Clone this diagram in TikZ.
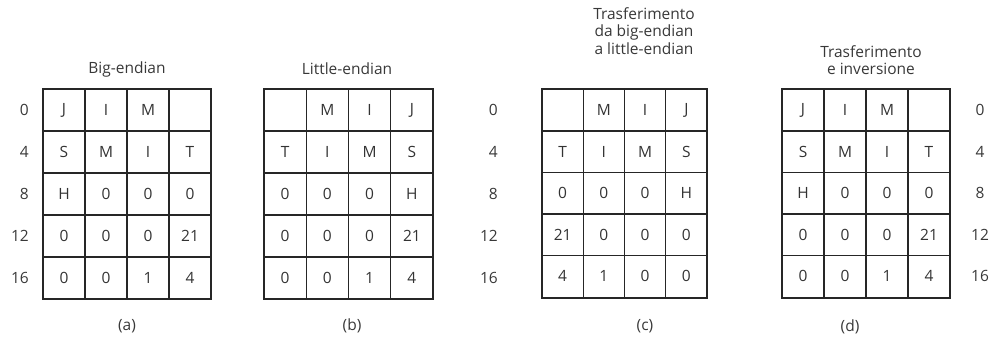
\documentclass[tikz,border=0pt]{standalone}
\usepackage{fontspec}
\setmainfont{Open Sans}
\begin{document}
\begin{tikzpicture}[x=1pt,y=-1pt,
  cell/.style={draw=black!85, line width=1.1pt, minimum height=42pt, inner sep=0pt,
    font=\fontsize{15.5}{17}\selectfont, text=black!80},
  lab/.style={font=\fontsize{15.5}{17}\selectfont, text=black!78, inner sep=0pt},
  ttl/.style={font=\fontsize{15.5}{17.5}\selectfont, text=black!78, align=center, inner sep=0pt},
  frame/.style={draw=black!85, line width=1.5pt}]
\useasboundingbox (0,0) rectangle (991,340);
% (a) Big-endian
\foreach [count=\i from 0] \p/\q/\s/\u in {J/I/M/{}, S/M/I/T, H/0/0/0, 0/0/0/21, 0/0/1/4} {
  \foreach [count=\j from 0] \v in {\p,\q,\s,\u} {
    \node[cell, minimum width=42pt] (a-\i-\j) at (43+21+42*\j, 110+42*\i) {\v};
  }
}
\draw[frame] (a-0-0.north west) rectangle (a-4-3.south east);
% (b) Little-endian
\foreach [count=\i from 0] \p/\q/\s/\u in {{}/M/I/J, T/I/M/S, 0/0/0/H, 0/0/0/21, 0/0/1/4} {
  \foreach [count=\j from 0] \v in {\p,\q,\s,\u} {
    \node[cell, minimum width=42.25pt] (b-\i-\j) at (264+21.125+42.25*\j, 110+42*\i) {\v};
  }
}
\draw[frame] (b-0-0.north west) rectangle (b-4-3.south east);
% (c)
\foreach [count=\i from 0] \p/\q/\s/\u in {{}/M/I/J, T/I/M/S, 0/0/0/H, 21/0/0/0, 4/1/0/0} {
  \foreach [count=\j from 0] \v in {\p,\q,\s,\u} {
    \node[cell, minimum width=41.25pt] (c-\i-\j) at (542+20.625+41.25*\j, 110+41.6*\i) {\v};
  }
}
\draw[frame] (c-0-0.north west) rectangle (c-4-3.south east);
% (d)
\foreach [count=\i from 0] \p/\q/\s/\u in {J/I/M/{}, S/M/I/T, H/0/0/0, 0/0/0/21, 0/0/1/4} {
  \foreach [count=\j from 0] \v in {\p,\q,\s,\u} {
    \node[cell, minimum width=42pt] (d-\i-\j) at (782+21+42*\j, 110+41.6*\i) {\v};
  }
}
\draw[frame] (d-0-0.north west) rectangle (d-4-3.south east);
% row labels
\foreach [count=\i from 0] \n in {0,4,8,12,16} {
  \node[lab, anchor=east] (la-\i) at (29, 110+42*\i) {\n};
  \node[lab, anchor=east] (lb-\i) at (498, 110+42*\i) {\n};
  \node[lab] (ld-\i) at (980, 110+41.6*\i) {\n};
}
% titles
\node[ttl] (ta) at (127,69) {Big-endian};
\node[ttl] (tb) at (347,69) {Little-endian};
\node[ttl] (tc) at (644,31) {Trasferimento\\da big-endian\\a little-endian};
\node[ttl] (td) at (871,60) {Trasferimento\\e inversione};
% captions
\node[lab] (ca) at (127,326) {(a)};
\node[lab] (cb) at (352,326) {(b)};
\node[lab] (cc) at (645,326) {(c)};
\node[lab] (cd) at (850,327) {(d)};
\end{tikzpicture}
\end{document}
